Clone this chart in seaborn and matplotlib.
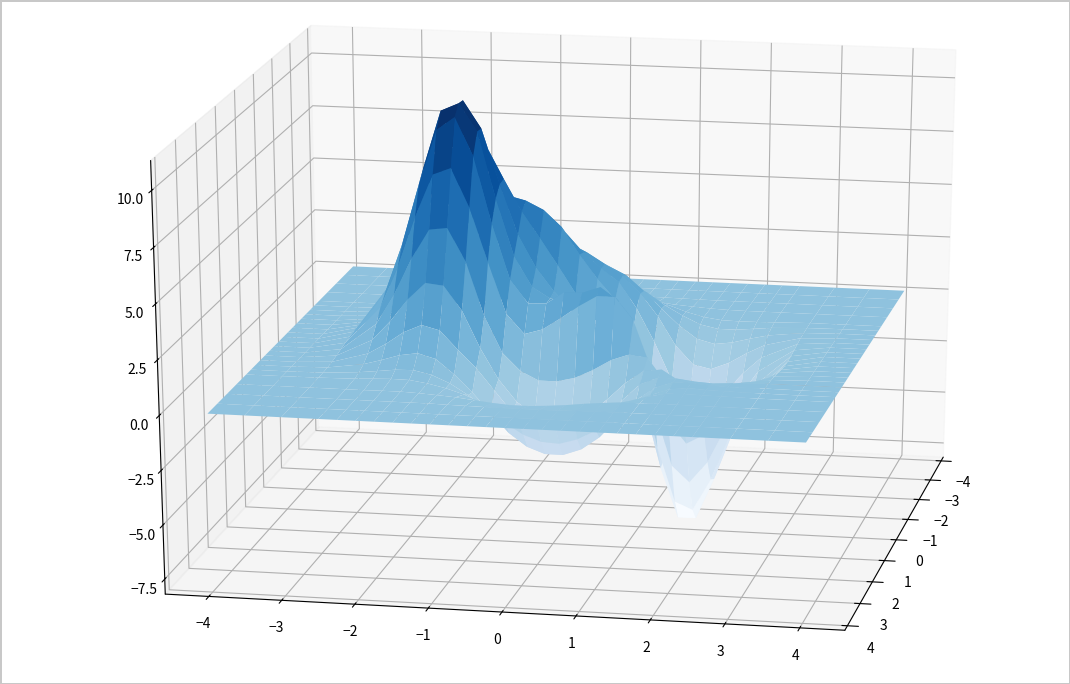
import matplotlib
matplotlib.use('Agg')
import matplotlib.pyplot as plt
import numpy as np
import seaborn as sns

sns.set_style('white', {'axes.edgecolor': 'black', 'grid.color': '#b0b0b0', 'text.color': 'black',
                        'xtick.color': 'black', 'ytick.color': 'black'})
plt.rcParams['font.family'] = ['Noto Sans CJK SC', 'DejaVu Sans']

# estimated heights, finer spacing where the surface moves
x_vals = [-4, -3.5, -3, -2.5, -2, -1.75, -1.5, -1.25, -1, -0.75, -0.5, -0.25, 0,
          0.25, 0.5, 0.75, 1, 1.25, 1.5, 1.75, 2, 2.5, 3, 3.5, 4]
y_vals = [-4, -3.5, -3, -2.5, -2.25, -2, -1.75, -1.5, -1.25, -1, -0.75, -0.5, -0.25, 0,
          0.25, 0.5, 0.75, 1, 1.25, 1.5, 1.75, 2, 2.25, 2.5, 3, 3.5, 4]
z_rows = [
    [0] * 27,
    [0] * 27,
    [0, 0, 0, 0, 0, 0, 0, 0, 0, 0, .01, .02, .03, .04, .04, .04, .03, .02, .01, 0, 0, 0, 0, 0, 0, 0, 0],
    [0, 0, 0, 0, .01, .03, .05, .07, .11, .15, .23, .32, .38, .41, .39, .33, .24, .15, .09, .04, .01, 0, 0, 0, 0, 0, 0],
    [0, 0, .01, .05, .10, .18, .28, .40, .57, .85, 1.10, 1.20, 1.30, 1.30, 1.25, 1.10, .85, .55, .27, .06, -.05, -.07, -.06, -.04, 0, 0, 0],
    [0, 0, .02, .13, .26, .44, .65, .86, 1.20, 1.60, 1.90, 2.00, 2.10, 2.10, 2.00, 1.75, 1.30, .75, .30, -.08, -.25, -.25, -.17, -.09, -.02, 0, 0],
    [0, 0, .04, .28, .56, .93, 1.33, 1.70, 2.10, 2.60, 3.00, 3.00, 3.00, 2.90, 2.70, 2.30, 1.60, .80, .05, -.54, -.75, -.64, -.42, -.23, -.04, 0, 0],
    [0, 0, .08, .55, 1.09, 1.78, 2.59, 3.28, 3.88, 4.30, 4.40, 4.20, 3.90, 3.50, 3.00, 2.50, 1.70, .65, -.68, -1.54, -1.72, -1.39, -.89, -.47, -.07, 0, 0],
    [0, 0, .15, .96, 1.88, 3.05, 4.30, 5.19, 5.40, 5.60, 5.90, 5.40, 4.60, 3.70, 3.00, 2.40, 1.20, -.33, -2.11, -3.20, -3.26, -2.55, -1.61, -.84, -.13, 0, 0],
    [0, 0, .23, 1.48, 2.88, 4.64, 6.40, 7.37, 6.90, 6.40, 6.20, 5.80, 5.05, 3.81, 2.72, 1.79, .29, -1.72, -3.92, -5.24, -5.16, -3.97, -2.49, -1.28, -.20, 0, 0],
    [0, 0, .31, 2.03, 3.92, 6.29, 8.52, 9.51, 8.90, 7.36, 5.89, 4.71, 3.48, 2.20, 1.32, .76, -.50, -2.69, -5.34, -7.20, -7.00, -5.27, -3.30, -1.71, -.26, 0, 0],
    [0, 0, .38, 2.44, 4.73, 7.58, 10.16, 11.05, 9.81, 7.31, 5.03, 3.54, 2.48, 1.63, 1.27, 1.15, -.01, -2.45, -5.59, -7.90, -7.90, -5.98, -3.76, -1.94, -.30, 0, 0],
    [0, 0, .40, 2.60, 5.04, 8.08, 10.73, 11.10, 9.87, 6.85, 4.24, 2.86, 2.36, 2.24, 2.54, 2.80, 1.70, -.88, -4.38, -6.90, -7.26, -5.77, -3.67, -1.90, -.29, 0, 0],
    [0, 0, .38, 2.44, 4.73, 7.59, 10.05, 10.66, 8.94, 5.90, 3.36, 2.30, 2.34, 2.90, 2.90, 3.20, 2.60, .90, -2.24, -4.95, -5.71, -4.71, -3.04, -1.58, -.24, 0, 0],
    [0, 0, .31, 2.03, 3.92, 6.28, 8.23, 8.55, 6.79, 4.35, 2.00, 1.10, 1.35, 1.90, 2.50, 3.00, 3.00, 2.00, -.20, -2.66, -3.65, -3.19, -2.11, -1.12, -.16, 0, 0],
    [0, 0, .23, 1.48, 2.85, 4.55, 5.92, 6.03, 4.54, 2.08, .40, -.40, -.80, -.80, -.60, -.20, .30, .60, .50, -.60, -1.70, -1.75, -1.21, -.63, -.09, 0, 0],
    [0, 0, .15, .95, 1.83, 2.89, 3.69, 3.60, 2.50, .80, -.60, -1.60, -2.20, -2.40, -2.40, -2.00, -1.30, -.50, .10, .20, -.30, -.60, -.50, -.28, -.04, 0, 0],
    [0, 0, .08, .54, 1.02, 1.60, 1.97, 1.76, .90, .10, -.90, -1.90, -2.80, -3.30, -3.40, -3.00, -2.20, -1.10, -.30, .05, .05, -.05, -.10, -.05, 0, 0, 0],
    [0, 0, .04, .27, .50, .76, .89, .66, 0, -.80, -1.70, -2.60, -3.20, -3.50, -3.50, -3.20, -2.60, -1.70, -.80, -.20, .10, .10, .03, 0, .01, 0, 0],
    [0, 0, .02, .12, .21, .31, .33, .15, -.20, -.70, -1.30, -1.90, -2.40, -2.70, -2.75, -2.50, -2.05, -1.40, -.80, -.30, 0, .10, .05, .03, .01, 0, 0],
    [0, 0, .01, .04, .08, .11, .10, -.02, -.20, -.45, -.80, -1.20, -1.50, -1.70, -1.70, -1.50, -1.20, -.80, -.40, -.15, .02, .05, .03, .02, 0, 0, 0],
    [0, 0, 0, 0, 0, .01, .01, -.02, -.07, -.13, -.22, -.31, -.37, -.37, -.32, -.25, -.15, -.07, -.01, 0, .01, .01, 0, 0, 0, 0, 0],
    [0, 0, 0, 0, 0, 0, 0, 0, 0, -.02, -.03, -.04, -.05, -.05, -.05, -.04, -.02, -.01, 0, 0, 0, 0, 0, 0, 0, 0, 0],
    [0] * 27,
    [0] * 27,
]
x_ticks = [-4, -3, -2, -1, 0, 1, 2, 3, 4]
y_ticks = [-4, -3, -2, -1, 0, 1, 2, 3, 4]
z_ticks = [-7.5, -5, -2.5, 0, 2.5, 5, 7.5, 10]

X, Y = np.meshgrid(x_vals, y_vals, indexing='ij')
Z = np.array(z_rows)

fig = plt.figure(figsize=(10.7, 6.84), dpi=100, edgecolor='#c8c8c8', linewidth=2)
ax = fig.add_axes([0.0226, 0.008, 0.99, 1.03], projection='3d')
ax.set_facecolor('none')
# stretch the box to the whole figure
ax.apply_aspect = lambda *a, **k: None
ax.set_box_aspect((1, 1, 1), zoom=1.07)
ax.set_proj_type('persp', focal_length=1.2)

ax.plot_surface(X, Y, Z, rstride=1, cstride=1, cmap=sns.color_palette('Blues', as_cmap=True),
                linewidth=0, antialiased=True)
ax.set_xlim(-4.2, 4.2)
ax.set_ylim(-4.6, 4.6)
ax.set_zlim(-8.2, 11.3)
ax.set_xticks(x_ticks)
ax.set_yticks(y_ticks)
ax.set_zticks(z_ticks)
ax.tick_params(labelsize=10)
ax.tick_params(axis='z', pad=0)
ax.view_init(elev=20.5, azim=11)

fig.savefig('out.png', dpi=100)
